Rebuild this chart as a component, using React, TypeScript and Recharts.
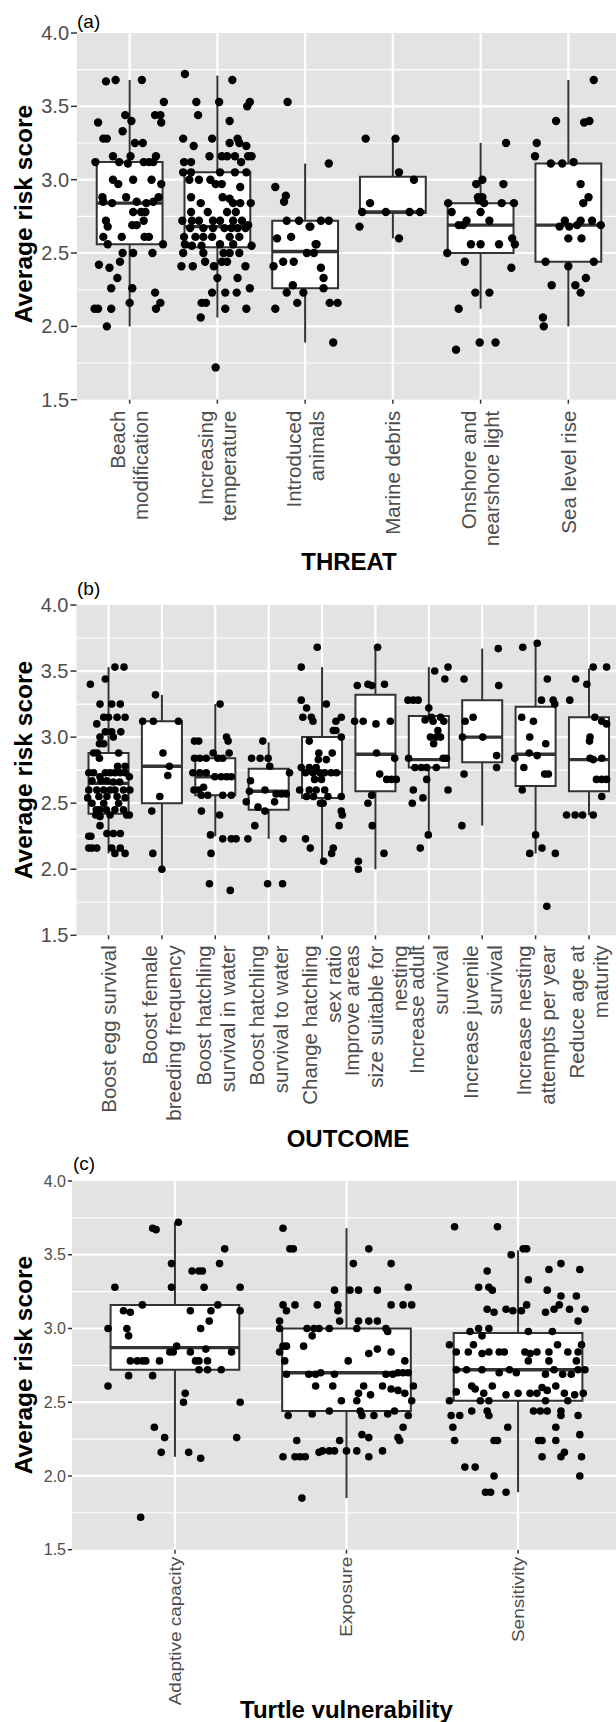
import { ComposedChart, XAxis, YAxis, CartesianGrid, Scatter, ReferenceArea, ReferenceLine } from "recharts"

type P = [number, number] // [jitter offset from category, score]
type Box = [number, number, number, number, number] // min, q1, median, q3, max

const FONT = "'Liberation Sans', Arial, Helvetica, sans-serif"
const yTicks = [1.5, 2, 2.5, 3, 3.5, 4]
const yMinor = [1.75, 2.25, 2.75, 3.25, 3.75]

// ---------- (a) THREAT ----------
const threatLabels = ["Beach\nmodification", "Increasing\ntemperature", "Introduced\nanimals", "Marine debris", "Onshore and\nnearshore light", "Sea level rise"]
const threatBoxes: Box[] = [
  [2.0, 2.56, 2.84, 3.12, 3.68],
  [2.06, 2.54, 2.68, 3.05, 3.71],
  [1.89, 2.26, 2.51, 2.72, 3.11],
  [2.6, 2.775, 2.78, 3.02, 3.28],
  [2.12, 2.5, 2.69, 2.84, 3.25],
  [2.0, 2.44, 2.69, 3.11, 3.68],
]
const beachPts: P[] = [[-0.27,3.67],[-0.16,3.68],[0.14,3.68],[0.39,3.53],[-0.36,3.39],[-0.05,3.44],[0.02,3.4],[0.29,3.44],[0.35,3.44],[0.36,3.39],[-0.08,3.33],[-0.3,3.28],[-0.26,3.28],[0.06,3.25],[0.15,3.25],[-0.39,3.12],[-0.19,3.16],[-0.12,3.12],[-0.02,3.11],[0.01,3.16],[0.16,3.12],[0.22,3.12],[0.27,3.12],[0.3,3.16],[-0.19,3.0],[-0.13,2.97],[0.04,3.0],[0.25,3.0],[0.36,2.97],[-0.31,2.88],[-0.3,2.85],[-0.2,2.84],[-0.04,2.88],[0.08,2.85],[0.19,2.84],[0.27,2.85],[0.33,2.88],[0.04,2.78],[0.13,2.78],[0.18,2.78],[-0.27,2.72],[-0.25,2.68],[0.03,2.69],[0.08,2.69],[0.16,2.72],[-0.3,2.61],[-0.09,2.61],[0.17,2.61],[0.22,2.61],[-0.25,2.56],[0.38,2.56],[-0.08,2.5],[0.04,2.5],[0.26,2.5],[-0.35,2.42],[-0.23,2.4],[-0.11,2.44],[-0.14,2.33],[-0.21,2.26],[0.03,2.26],[0.29,2.23],[-0.4,2.12],[-0.36,2.12],[-0.21,2.12],[0.0,2.16],[0.3,2.12],[0.35,2.16],[-0.26,2.0]]
const tempPts: P[] = [[-0.37,3.72],[0.17,3.68],[-0.24,3.53],[0.02,3.53],[0.37,3.53],[0.34,3.5],[-0.22,3.44],[0.14,3.4],[-0.39,3.28],[-0.06,3.28],[0.14,3.25],[0.23,3.28],[0.25,3.25],[-0.27,3.23],[0.33,3.23],[-0.38,3.12],[-0.3,3.12],[-0.09,3.16],[0.05,3.16],[0.11,3.16],[0.2,3.16],[0.27,3.12],[0.35,3.16],[0.39,3.16],[-0.39,3.05],[-0.3,3.05],[0.03,3.05],[0.2,3.05],[0.33,3.05],[-0.32,3.0],[-0.21,3.0],[-0.08,3.0],[-0.02,2.97],[0.05,2.97],[0.26,2.95],[-0.3,2.88],[-0.19,2.84],[0.06,2.88],[0.14,2.87],[0.18,2.84],[0.26,2.84],[0.38,2.84],[-0.3,2.78],[-0.11,2.78],[0.11,2.78],[0.21,2.78],[-0.4,2.72],[-0.29,2.72],[-0.21,2.72],[-0.05,2.72],[0.03,2.72],[0.18,2.72],[0.28,2.72],[0.35,2.69],[-0.31,2.67],[-0.16,2.67],[-0.05,2.67],[0.08,2.67],[0.16,2.67],[0.23,2.67],[0.32,2.67],[-0.38,2.61],[-0.25,2.61],[-0.16,2.61],[-0.06,2.61],[0.14,2.61],[0.25,2.61],[-0.37,2.56],[-0.29,2.55],[-0.18,2.55],[0.03,2.56],[0.18,2.56],[0.39,2.55],[-0.39,2.5],[-0.16,2.5],[0.07,2.5],[0.14,2.5],[0.25,2.5],[-0.41,2.41],[-0.28,2.41],[-0.14,2.44],[-0.04,2.41],[0.05,2.44],[0.11,2.44],[0.32,2.41],[0.0,2.33],[0.23,2.33],[-0.06,2.23],[0.09,2.23],[0.22,2.23],[0.37,2.26],[-0.18,2.16],[-0.13,2.16],[0.09,2.12],[0.33,2.12],[-0.19,2.06],[-0.02,1.72]]
const animalPts: P[] = [[-0.2,3.53],[-0.34,2.95],[-0.22,2.89],[-0.24,2.85],[-0.21,2.72],[-0.07,2.72],[0.05,2.68],[-0.32,2.6],[-0.16,2.61],[0.13,2.56],[-0.36,2.41],[-0.25,2.44],[-0.13,2.44],[0.1,2.5],[-0.14,2.28],[-0.21,2.23],[-0.02,2.23],[-0.09,2.16],[-0.34,2.12],[0.27,3.11],[0.06,2.68],[0.18,2.72],[0.27,2.72],[0.12,2.56],[0.02,2.5],[0.18,2.4],[0.21,2.33],[0.21,2.26],[0.28,2.16],[0.37,2.16],[0.32,1.89]]
const debrisPts: P[] = [[-0.31,3.28],[0.03,3.28],[0.07,3.05],[0.24,3.0],[-0.26,2.84],[-0.35,2.78],[-0.08,2.78],[0.19,2.78],[0.31,2.78],[-0.38,2.68],[0.07,2.6]]
const lightPts: P[] = [[0.29,3.25],[-0.05,2.97],[0.02,3.0],[0.26,2.97],[-0.03,2.88],[0.02,2.88],[-0.02,2.86],[0.04,2.84],[-0.37,2.84],[0.24,2.84],[0.38,2.84],[-0.33,2.78],[0.0,2.78],[0.1,2.72],[-0.16,2.72],[-0.25,2.69],[-0.2,2.69],[0.36,2.6],[0.39,2.56],[-0.11,2.56],[0.0,2.56],[0.21,2.56],[-0.38,2.5],[-0.18,2.44],[0.35,2.4],[-0.06,2.23],[0.1,2.23],[-0.25,2.12],[-0.01,1.89],[0.17,1.89],[-0.28,1.84]]
const seaPts: P[] = [[0.29,3.68],[-0.14,3.4],[0.18,3.39],[0.24,3.4],[-0.36,3.25],[-0.38,3.16],[-0.2,3.11],[-0.07,3.11],[0.06,3.12],[0.14,2.97],[0.23,2.88],[0.17,2.84],[-0.04,2.72],[0.14,2.72],[0.27,2.72],[-0.1,2.68],[0.01,2.68],[0.1,2.69],[0.37,2.69],[0.0,2.6],[0.15,2.6],[-0.26,2.44],[0.29,2.44],[0.0,2.41],[-0.19,2.28],[0.08,2.28],[0.2,2.33],[0.14,2.23],[-0.29,2.06],[-0.28,2.0]]
const threatPts = [beachPts, tempPts, animalPts, debrisPts, lightPts, seaPts]

// ---------- (b) OUTCOME ----------
const outcomeLabels = ["Boost egg survival", "Boost female\nbreeding frequency", "Boost hatchling\nsurvival in water", "Boost hatchling\nsurvival to water", "Change hatchling\nsex ratio", "Improve areas\nsize suitable for\nnesting", "Increase adult\nsurvival", "Increase juvenile\nsurvival", "Increase nesting\nattempts per year", "Reduce age at\nmaturity"]
const outcomeBoxes: Box[] = [
  [2.12, 2.42, 2.65, 2.88, 3.53],
  [2.0, 2.5, 2.78, 3.12, 3.32],
  [2.25, 2.56, 2.7, 2.84, 3.25],
  [2.23, 2.45, 2.59, 2.76, 2.96],
  [2.06, 2.54, 2.73, 3.0, 3.53],
  [2.0, 2.59, 2.87, 3.32, 3.68],
  [2.26, 2.77, 2.83, 3.16, 3.53],
  [2.33, 2.81, 3.0, 3.28, 3.67],
  [2.12, 2.63, 2.87, 3.23, 3.72],
  [2.41, 2.59, 2.83, 3.15, 3.52],
]
const eggPts: P[] = [[-0.34,3.4],[-0.06,3.44],[0.12,3.53],[0.29,3.53],[-0.16,3.25],[0.06,3.25],[0.22,3.25],[-0.22,3.1],[-0.09,3.15],[0.0,3.15],[0.16,3.15],[0.31,3.15],[-0.16,3.0],[-0.06,3.04],[0.06,3.04],[0.09,3.0],[0.23,3.04],[-0.17,2.95],[-0.09,2.95],[-0.28,2.88],[-0.21,2.88],[0.19,2.88],[-0.17,2.84],[0.17,2.78],[0.31,2.78],[-0.37,2.73],[-0.28,2.73],[-0.16,2.7],[-0.06,2.73],[0.03,2.73],[0.12,2.73],[0.22,2.73],[0.31,2.73],[0.39,2.7],[-0.31,2.67],[-0.14,2.67],[-0.03,2.67],[0.09,2.66],[0.21,2.66],[-0.37,2.6],[-0.22,2.6],[-0.09,2.6],[0.03,2.6],[0.12,2.6],[0.28,2.6],[0.4,2.6],[-0.39,2.54],[-0.18,2.55],[-0.03,2.55],[0.16,2.55],[0.31,2.54],[-0.31,2.5],[-0.09,2.5],[0.19,2.5],[-0.23,2.45],[-0.16,2.45],[-0.04,2.45],[0.12,2.45],[0.28,2.45],[0.34,2.41],[0.39,2.41],[-0.24,2.41],[-0.16,2.4],[0.03,2.41],[-0.16,2.33],[-0.37,2.25],[-0.33,2.25],[-0.03,2.27],[0.09,2.27],[0.22,2.27],[-0.37,2.16],[-0.31,2.16],[-0.22,2.16],[0.06,2.16],[0.12,2.12],[0.22,2.16],[0.31,2.12]]
const femalePts: P[] = [[-0.12,3.32],[-0.36,3.12],[-0.16,3.12],[0.31,3.12],[0.02,2.88],[0.11,2.71],[0.14,2.78],[-0.04,2.55],[-0.19,2.44],[-0.17,2.12],[0.0,2.0]]
const inWaterPts: P[] = [[-0.39,2.97],[-0.31,2.97],[-0.39,2.84],[-0.29,2.84],[-0.17,2.84],[-0.04,2.88],[0.05,2.84],[0.14,2.84],[0.21,3.0],[0.24,2.97],[0.26,2.88],[0.09,3.25],[-0.42,2.73],[-0.29,2.73],[-0.17,2.73],[-0.01,2.7],[0.11,2.7],[0.21,2.7],[0.3,2.7],[-0.4,2.6],[-0.31,2.6],[-0.22,2.62],[-0.26,2.56],[-0.14,2.56],[0.14,2.56],[0.3,2.56],[-0.26,2.44],[0.08,2.41],[-0.09,2.26],[0.14,2.23],[0.3,2.23],[0.39,2.23],[-0.08,2.12],[-0.11,1.89],[0.28,1.84]]
const toWaterPts: P[] = [[-0.32,2.84],[-0.16,2.84],[-0.01,2.84],[-0.11,2.97],[0.02,2.78],[0.39,2.73],[-0.34,2.67],[-0.36,2.59],[-0.07,2.6],[0.14,2.57],[0.24,2.57],[0.33,2.57],[-0.42,2.51],[-0.2,2.47],[0.11,2.51],[-0.07,2.44],[-0.26,2.33],[-0.39,2.23],[0.27,2.23],[-0.02,1.89],[0.26,1.89]]
const sexRatioPts: P[] = [[-0.39,3.53],[-0.09,3.68],[-0.39,3.28],[-0.29,3.22],[-0.36,3.15],[-0.2,3.15],[-0.17,3.12],[0.08,3.25],[0.36,3.15],[0.26,3.12],[0.21,3.05],[0.26,3.05],[0.36,3.0],[-0.24,2.97],[-0.06,2.88],[0.19,2.88],[0.08,2.83],[-0.07,2.83],[-0.39,2.77],[-0.24,2.77],[-0.11,2.77],[-0.31,2.73],[-0.17,2.73],[-0.04,2.73],[0.05,2.73],[0.17,2.73],[0.27,2.73],[-0.14,2.68],[-0.01,2.68],[-0.42,2.6],[-0.24,2.6],[-0.11,2.6],[0.05,2.6],[-0.29,2.55],[-0.16,2.55],[0.11,2.55],[0.36,2.55],[-0.03,2.5],[0.02,2.5],[0.36,2.44],[0.38,2.41],[0.32,2.33],[-0.31,2.23],[-0.22,2.16],[0.21,2.16],[0.18,2.12],[0.03,2.06]]
const areasPts: P[] = [[0.04,3.68],[-0.34,3.39],[-0.14,3.4],[-0.07,3.39],[0.17,3.4],[-0.39,3.12],[-0.23,3.12],[0.01,3.1],[0.28,3.12],[0.02,2.88],[0.36,2.84],[0.08,2.72],[0.21,2.68],[0.3,2.68],[0.39,2.68],[-0.07,2.56],[-0.14,2.5],[-0.06,2.33],[0.16,2.12],[-0.32,2.06],[-0.32,2.0]]
const adultPts: P[] = [[-0.39,3.28],[-0.29,3.28],[-0.2,3.28],[0.0,3.22],[0.11,3.5],[0.36,3.53],[0.3,3.44],[-0.07,3.13],[0.05,3.15],[0.08,3.12],[0.22,3.15],[0.28,3.12],[0.17,3.05],[0.03,3.0],[0.14,3.0],[0.22,3.0],[0.09,2.95],[-0.38,2.84],[0.27,2.84],[0.33,2.84],[-0.26,2.77],[-0.14,2.77],[-0.04,2.77],[0.14,2.77],[-0.04,2.68],[-0.29,2.6],[0.36,2.6],[-0.31,2.5],[-0.11,2.54],[-0.01,2.26],[-0.16,2.16]]
const juvenilePts: P[] = [[0.3,3.67],[-0.34,3.44],[0.31,3.39],[-0.17,3.15],[-0.32,3.12],[-0.37,3.0],[0.01,3.0],[0.27,2.86],[0.27,2.77],[-0.34,2.72],[-0.38,2.33]]
const attemptsPts: P[] = [[-0.24,3.68],[0.03,3.71],[0.22,3.44],[0.11,3.28],[0.33,3.28],[0.36,3.25],[-0.26,3.15],[-0.04,3.12],[-0.11,3.0],[0.19,2.95],[-0.12,2.88],[0.03,2.86],[-0.39,2.84],[-0.22,2.77],[0.17,2.72],[0.24,2.72],[-0.25,2.6],[0.0,2.26],[-0.11,2.12],[0.12,2.16],[0.37,2.12],[0.21,1.72]]
const maturityPts: P[] = [[0.08,3.53],[0.33,3.53],[-0.25,3.44],[-0.04,3.4],[-0.36,3.28],[0.11,3.15],[0.24,3.12],[0.33,3.1],[0.02,3.0],[0.01,2.97],[0.02,2.84],[0.08,2.83],[0.24,2.84],[0.14,2.68],[0.24,2.68],[0.33,2.68],[0.24,2.55],[-0.42,2.41],[-0.26,2.41],[-0.12,2.41],[0.08,2.41]]
const outcomePts = [eggPts, femalePts, inWaterPts, toWaterPts, sexRatioPts, areasPts, adultPts, juvenilePts, attemptsPts, maturityPts]

// ---------- (c) Turtle vulnerability ----------
const vulnLabels = ["Adaptive capacity", "Exposure", "Sensitivity"]
const vulnBoxes: Box[] = [
  [2.13, 2.72, 2.87, 3.16, 3.72],
  [1.85, 2.44, 2.7, 3.0, 3.68],
  [1.89, 2.51, 2.72, 2.97, 3.53],
]
const adaptivePts: P[] = [[0.02,3.72],[-0.13,3.68],[-0.11,3.67],[0.29,3.54],[-0.02,3.44],[0.26,3.44],[0.1,3.39],[0.14,3.39],[0.16,3.39],[-0.35,3.28],[-0.02,3.28],[0.17,3.28],[0.38,3.28],[-0.19,3.16],[0.25,3.16],[-0.3,3.12],[-0.26,3.11],[0.09,3.12],[0.21,3.12],[0.38,3.12],[-0.39,3.0],[-0.28,3.0],[-0.27,2.95],[0.15,3.0],[0.2,3.05],[0.01,2.88],[-0.03,2.84],[-0.01,2.84],[0.09,2.84],[0.18,2.86],[0.33,2.84],[-0.26,2.78],[-0.22,2.78],[-0.19,2.78],[-0.17,2.78],[-0.09,2.78],[0.12,2.78],[0.14,2.78],[0.19,2.78],[0.14,2.72],[0.19,2.72],[0.27,2.72],[-0.27,2.68],[-0.13,2.68],[-0.39,2.61],[0.06,2.56],[0.05,2.5],[0.38,2.5],[-0.12,2.33],[-0.06,2.26],[0.36,2.26],[-0.08,2.16],[0.08,2.16],[0.15,2.12],[-0.2,1.72]]
const exposurePts: P[] = [[-0.37,3.68],[-0.33,3.54],[-0.31,3.54],[-0.37,3.16],[-0.3,3.16],[-0.35,3.12],[-0.17,3.16],[-0.39,3.05],[-0.39,3.0],[-0.39,2.84],[-0.37,2.88],[-0.35,2.88],[-0.25,2.88],[-0.36,2.78],[-0.2,2.95],[-0.19,3.0],[-0.16,3.0],[-0.35,2.69],[-0.22,2.69],[-0.18,2.69],[-0.18,2.61],[-0.34,2.41],[-0.2,2.42],[-0.29,2.24],[-0.37,2.13],[-0.3,2.13],[-0.27,2.13],[-0.24,2.13],[-0.16,2.16],[-0.26,1.85],[0.13,3.54],[0.04,3.44],[0.26,3.44],[-0.07,3.26],[0.02,3.26],[0.07,3.26],[0.18,3.26],[0.36,3.28],[-0.05,3.16],[0.26,3.16],[0.33,3.16],[0.38,3.16],[-0.05,3.12],[-0.04,3.05],[0.07,3.05],[0.13,3.05],[0.18,3.05],[-0.23,3.0],[-0.1,3.0],[0.06,3.0],[0.23,3.0],[0.24,2.98],[0.01,2.78],[0.13,2.83],[0.18,2.86],[0.26,2.84],[0.34,2.78],[-0.15,2.7],[-0.07,2.69],[0.23,2.69],[0.27,2.69],[0.3,2.7],[0.33,2.7],[0.36,2.7],[-0.08,2.61],[0.1,2.61],[0.21,2.61],[0.26,2.59],[0.3,2.58],[0.39,2.61],[0.07,2.56],[0.14,2.55],[0.34,2.56],[0.38,2.51],[-0.03,2.51],[0.06,2.51],[-0.1,2.44],[0.08,2.44],[0.09,2.41],[0.16,2.41],[0.24,2.42],[0.28,2.44],[0.36,2.41],[0.33,2.33],[0.09,2.28],[0.13,2.26],[0.3,2.26],[0.31,2.24],[-0.04,2.24],[-0.14,2.17],[-0.1,2.17],[-0.07,2.17],[0.0,2.17],[0.06,2.17],[0.13,2.13],[0.21,2.17]]
const sensitivityPts: P[] = [[-0.37,3.69],[-0.12,3.69],[0.03,3.54],[0.05,3.54],[-0.04,3.5],[-0.18,3.39],[0.18,3.4],[0.25,3.44],[0.36,3.4],[0.06,3.33],[-0.23,3.28],[-0.17,3.28],[-0.15,3.26],[0.17,3.26],[0.25,3.22],[0.34,3.22],[-0.18,3.13],[-0.14,3.11],[-0.07,3.13],[-0.03,3.12],[0.02,3.12],[0.05,3.16],[0.16,3.11],[0.21,3.13],[0.24,3.16],[0.3,3.13],[0.35,3.05],[0.39,3.13],[-0.28,2.98],[-0.23,3.0],[-0.21,2.95],[-0.17,3.0],[0.06,2.98],[0.2,2.98],[-0.4,2.89],[-0.36,2.84],[-0.29,2.84],[-0.26,2.89],[-0.21,2.83],[-0.17,2.84],[-0.11,2.84],[-0.08,2.84],[0.04,2.84],[0.07,2.83],[0.11,2.84],[0.18,2.84],[0.23,2.89],[0.29,2.84],[0.35,2.84],[0.37,2.89],[0.06,2.78],[0.18,2.78],[0.34,2.78],[-0.36,2.72],[-0.3,2.72],[-0.21,2.72],[-0.11,2.7],[-0.05,2.72],[-0.01,2.7],[0.16,2.69],[0.21,2.72],[0.26,2.69],[0.31,2.69],[0.35,2.72],[0.39,2.72],[-0.36,2.57],[-0.27,2.61],[-0.25,2.59],[-0.2,2.56],[-0.15,2.61],[-0.07,2.55],[0.0,2.56],[0.07,2.56],[0.11,2.56],[0.14,2.6],[0.17,2.58],[0.22,2.61],[0.27,2.56],[0.33,2.55],[0.38,2.56],[-0.4,2.51],[-0.22,2.51],[-0.17,2.51],[0.16,2.51],[0.29,2.51],[-0.39,2.41],[-0.34,2.41],[-0.27,2.44],[-0.18,2.44],[-0.17,2.41],[0.09,2.44],[0.13,2.44],[0.17,2.44],[0.25,2.44],[0.25,2.41],[0.35,2.41],[-0.38,2.33],[-0.06,2.33],[0.22,2.33],[-0.37,2.24],[-0.14,2.24],[-0.12,2.24],[0.12,2.24],[0.14,2.24],[0.22,2.24],[0.36,2.28],[0.14,2.13],[0.25,2.13],[0.27,2.16],[0.37,2.13],[-0.31,2.06],[-0.25,2.06],[-0.14,2.0],[0.36,2.0],[-0.19,1.89],[-0.16,1.89],[-0.07,1.89]]
const vulnPts = [adaptivePts, exposurePts, sensitivityPts]

type PanelProps = {
  plotTop: number
  plotH: number
  left: number
  labels: string[]
  boxes: Box[]
  pts: P[][]
  tickFont: number
  tickLen: number
  labelFont: number
  lineGap: number
  labelGap: number
  stretch: number
  r: number
}

function XTick(props: any) {
  const { x, y, payload, labels, font, gap, offset, stretch } = props
  const lines: string[] = labels[payload.value - 1].split("\n")
  const cap = font * 0.716
  const y0 = y + offset
  return (
    <text transform={`translate(${x} ${y0}) rotate(-90) scale(${stretch} 1)`} textAnchor="end" fontSize={font} fill="#4d4d4d" fontFamily={FONT}>
      {lines.map((s, i) => (
        <tspan key={i} x={0} y={cap / 2 - ((lines.length - 1) * gap) / 2 + i * gap}>
          {s}
        </tspan>
      ))}
    </text>
  )
}

function Panel({ plotTop, plotH, left, labels, boxes, pts, tickFont, tickLen, labelFont, lineGap, labelGap, stretch, r }: PanelProps) {
  const n = labels.length
  const cats = labels.map((_, i) => i + 1)
  const data = pts.flatMap((list, i) => list.map(([dx, y]) => ({ x: i + 1 + dx, y })))
  const axisH = 215
  return (
    <div style={{ position: "absolute", left: 0, top: plotTop - 10 }}>
      <ComposedChart width={621} height={10 + plotH + axisH} margin={{ top: 10, right: 0, bottom: 0, left: 0 }}>
        <CartesianGrid horizontalValues={yMinor} vertical={false} stroke="#ffffff" strokeWidth={1.1} fill="#e3e3e3" fillOpacity={1} />
        <CartesianGrid horizontalValues={yTicks.slice(1, -1)} verticalValues={cats} stroke="#ffffff" strokeWidth={2.2} />
        <XAxis
          type="number"
          dataKey="x"
          domain={[0.4, n + 0.6]}
          ticks={cats}
          interval={0}
          allowDataOverflow
          axisLine={false}
          tickSize={4}
          tickMargin={2}
          tickLine={{ stroke: "#333", strokeWidth: 1.5 }}
          height={axisH}
          tick={(p: any) => <XTick {...p} labels={labels} font={labelFont} gap={lineGap} offset={labelGap} stretch={stretch} />}
        />
        <YAxis
          type="number"
          dataKey="y"
          domain={[1.5, 4]}
          ticks={yTicks}
          interval={0}
          allowDataOverflow
          width={left}
          axisLine={false}
          tickSize={tickLen}
          tickMargin={2}
          tickLine={{ stroke: "#333", strokeWidth: 1.5 }}
          tickFormatter={(v: number) => v.toFixed(1)}
          tick={{ fill: "#4d4d4d", fontSize: tickFont, fontFamily: FONT }}
        />
        {boxes.map(([mn, q1, md, q3, mx], i) => (
          <ReferenceLine key={`wu${i}`} segment={[{ x: i + 1, y: q3 }, { x: i + 1, y: mx }]} stroke="#333" strokeWidth={2} />
        ))}
        {boxes.map(([mn, q1, md, q3, mx], i) => (
          <ReferenceLine key={`wl${i}`} segment={[{ x: i + 1, y: mn }, { x: i + 1, y: q1 }]} stroke="#333" strokeWidth={2} />
        ))}
        {boxes.map(([mn, q1, md, q3, mx], i) => (
          <ReferenceArea key={`b${i}`} x1={i + 1 - 0.375} x2={i + 1 + 0.375} y1={q1} y2={q3} fill="#ffffff" fillOpacity={1} stroke="#333" strokeWidth={2} />
        ))}
        {boxes.map(([mn, q1, md, q3, mx], i) => (
          <ReferenceLine key={`m${i}`} segment={[{ x: i + 1 - 0.375, y: md }, { x: i + 1 + 0.375, y: md }]} stroke="#333" strokeWidth={3.4} />
        ))}
        <Scatter
          data={data}
          fill="#000"
          isAnimationActive={false}
          shape={(p: any) => <circle cx={p.cx} cy={p.cy} r={r} fill="#000" />}
        />
      </ComposedChart>
    </div>
  )
}

export default function App() {
  const titleStyle = { fontFamily: FONT, fontWeight: 700, fill: "#000" } as const
  return (
    <div style={{ position: "absolute", left: 0, top: 0, width: 616, height: 1722, overflow: "hidden", background: "#fff" }}>
      <Panel plotTop={1180.6} plotH={368.7} left={72} labels={vulnLabels} boxes={vulnBoxes} pts={vulnPts} tickFont={16} tickLen={4} labelFont={16.5} lineGap={20} labelGap={1} stretch={1.15} r={3.8} />
      <Panel plotTop={605} plotH={330.3} left={76.5} labels={outcomeLabels} boxes={outcomeBoxes} pts={outcomePts} tickFont={20} tickLen={6} labelFont={20.5} lineGap={24} labelGap={4} stretch={1} r={3.8} />
      <Panel plotTop={33.3} plotH={366.7} left={77} labels={threatLabels} boxes={threatBoxes} pts={threatPts} tickFont={20} tickLen={6} labelFont={20.5} lineGap={23} labelGap={5} stretch={1} r={4.2} />
      <svg width={616} height={1722} style={{ position: "absolute", left: 0, top: 0, pointerEvents: "none" }}>
        <text x={77} y={28} fontSize={19} fontFamily={FONT} fill="#000">(a)</text>
        <text x={77} y={595} fontSize={19} fontFamily={FONT} fill="#000">(b)</text>
        <text x={73} y={1170} fontSize={19} fontFamily={FONT} fill="#000">(c)</text>
        <text transform="rotate(-90 31.5 214)" x={31.5} y={214} textAnchor="middle" fontSize={24.5} {...titleStyle}>Average risk score</text>
        <text transform="rotate(-90 31.5 770)" x={31.5} y={770} textAnchor="middle" fontSize={24.5} {...titleStyle}>Average risk score</text>
        <text transform="rotate(-90 31.5 1365)" x={31.5} y={1365} textAnchor="middle" fontSize={24.5} {...titleStyle}>Average risk score</text>
        <text x={349} y={570} textAnchor="middle" fontSize={24} {...titleStyle}>THREAT</text>
        <text x={348} y={1147} textAnchor="middle" fontSize={24} {...titleStyle}>OUTCOME</text>
        <text x={346.5} y={1718} textAnchor="middle" fontSize={24} {...titleStyle}>Turtle vulnerability</text>
      </svg>
    </div>
  )
}
